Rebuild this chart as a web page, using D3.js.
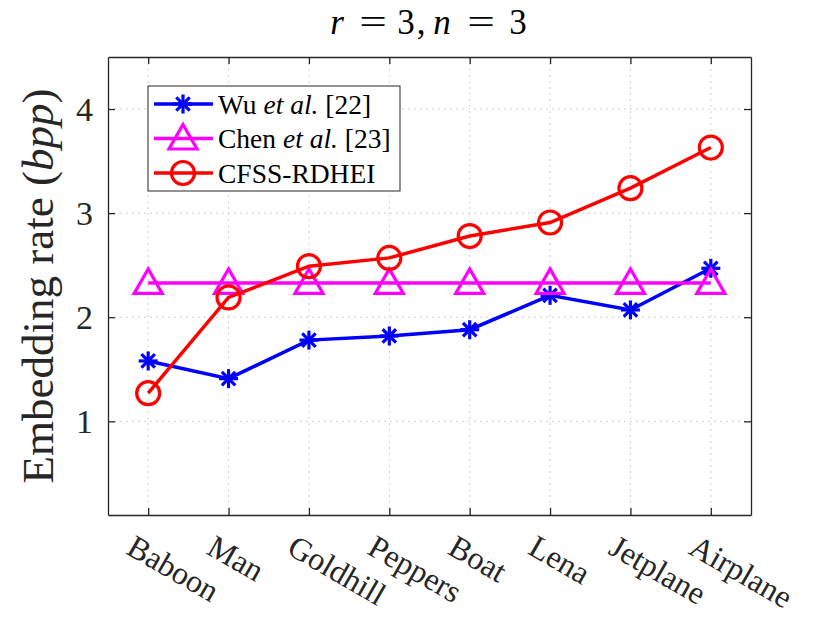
<html>
  <head>
    <meta charset="utf-8" />
    <script src="https://d3js.org/d3.v7.min.js"></script>
  </head>
  <body>
    <div id="chart"></div>
    <script>
      // images sur l'axe x
      const images = ["Baboon", "Man", "Goldhill", "Peppers", "Boat", "Lena", "Jetplane", "Airplane"];
      // taux d'insertion (bpp)
      const wu    = [1.58, 1.41, 1.78, 1.82, 1.88, 2.21, 2.07, 2.47];
      const chen  = [2.33, 2.33, 2.33, 2.33, 2.33, 2.33, 2.33, 2.33];
      const cfss  = [1.27, 2.19, 2.49, 2.57, 2.78, 2.91, 3.24, 3.63];
      const yTicks = [1, 2, 3, 4];

      const W = 830, H = 623;
      const pLeft = 108, pRight = 751, pTop = 57, pBottom = 515;
      const serif = "Liberation Serif";

      d3.select("body").style("margin", "0px");

      const svg = d3.select("#chart").append("svg")
        .attr("width", W).attr("height", H)
        .style("display", "block");

      const x = d3.scaleLinear().domain([0.5, images.length + 0.5]).range([pLeft, pRight]);
      const y = d3.scaleLinear().domain([0.1, 4.5]).range([pBottom, pTop]);

      // grille pointillee
      const grid = svg.append("g").attr("stroke", "#d0d0d0").attr("stroke-width", 1)
        .attr("stroke-dasharray", "2,4");
      images.forEach((d, i) => {
        grid.append("line").attr("x1", x(i + 1)).attr("x2", x(i + 1))
          .attr("y1", pTop).attr("y2", pBottom);
      });
      yTicks.forEach(t => {
        grid.append("line").attr("x1", pLeft).attr("x2", pRight)
          .attr("y1", y(t)).attr("y2", y(t));
      });

      // axes (boite a la matlab)
      const xAxis = d3.axisBottom(x).tickValues(d3.range(1, images.length + 1))
        .tickFormat(d => images[d - 1]).tickSize(-7).tickSizeOuter(0);
      const xTop = d3.axisTop(x).tickValues(d3.range(1, images.length + 1))
        .tickFormat("").tickSize(-7).tickSizeOuter(0);
      const yAxis = d3.axisLeft(y).tickValues(yTicks).tickFormat(d3.format("d"))
        .tickSize(-7).tickSizeOuter(0);
      const yRight = d3.axisRight(y).tickValues(yTicks).tickFormat("").tickSize(-7).tickSizeOuter(0);

      const gx = svg.append("g").attr("transform", `translate(0,${pBottom})`).call(xAxis);
      svg.append("g").attr("transform", `translate(0,${pTop})`).call(xTop);
      const gy = svg.append("g").attr("transform", `translate(${pLeft},0)`).call(yAxis);
      svg.append("g").attr("transform", `translate(${pRight},0)`).call(yRight);

      svg.selectAll(".domain, .tick line").attr("stroke", "#262626").attr("stroke-width", 1.3);

      gx.selectAll(".tick text")
        .attr("font-size", 32)
        .attr("text-anchor", "start")
        .attr("dy", null).attr("y", null)
        .attr("transform", "translate(-24,38) rotate(30)")
        .attr("fill", "#262626");

      gy.selectAll(".tick text")
        .attr("font-size", 34)
        .attr("x", -15).attr("dy", "0.34em")
        .attr("fill", "#262626");

      // titre : r = 3, n = 3 (espacement facon LaTeX)
      const titre = [["r", 337, true], ["=", 373, false], ["3", 406, false], [",", 421, false],
                     ["n", 442, true], ["=", 481, false], ["3", 518, false]];
      titre.forEach(([t, cx, it]) => {
        svg.append("text")
          .attr("transform", `translate(${cx},34) scale(${t === "=" ? 1.4 : 1},1)`)
          .attr("text-anchor", "middle").attr("font-size", 35)
          .attr("font-style", it ? "italic" : "normal").attr("fill", "#000")
          .text(t);
      });

      // libelle y
      svg.append("text")
        .attr("transform", `translate(53,${(pTop + pBottom) / 2}) rotate(-90)`)
        .attr("text-anchor", "middle").attr("font-size", 45).attr("fill", "#262626")
        .html('Embedding rate (<tspan font-style="italic">bpp</tspan>)');

      const line = d3.line().x((d, i) => x(i + 1)).y(d => y(d));

      const series = [
        { name: "wu", values: wu, color: "#0000ff", marker: "star" },
        { name: "chen", values: chen, color: "#ff00ff", marker: "tri" },
        { name: "cfss", values: cfss, color: "#ff0000", marker: "circle" }
      ];

      function drawMarker(g, type, cx, cy, color) {
        if (type === "star") {
          const r = 9.5;
          for (let k = 0; k < 4; k++) {
            const a = k * Math.PI / 4;
            g.append("line")
              .attr("x1", cx - r * Math.cos(a)).attr("y1", cy - r * Math.sin(a))
              .attr("x2", cx + r * Math.cos(a)).attr("y2", cy + r * Math.sin(a))
              .attr("stroke", color).attr("stroke-width", 3.2);
          }
        } else if (type === "tri") {
          const s = 14;
          g.append("path")
            .attr("d", `M${cx},${cy - s} L${cx + s},${cy + s * 0.75} L${cx - s},${cy + s * 0.75} Z`)
            .attr("fill", "none").attr("stroke", color).attr("stroke-width", 3.2);
        } else {
          g.append("circle").attr("cx", cx).attr("cy", cy).attr("r", 11.5)
            .attr("fill", "none").attr("stroke", color).attr("stroke-width", 3.2);
        }
      }

      series.forEach(s => {
        const g = svg.append("g");
        g.append("path").datum(s.values).attr("d", line)
          .attr("fill", "none").attr("stroke", s.color).attr("stroke-width", 3.5);
        s.values.forEach((v, i) => drawMarker(g, s.marker, x(i + 1), y(v), s.color));
      });

      // legende
      const lg = svg.append("g");
      lg.append("rect").attr("x", 148).attr("y", 86).attr("width", 252).attr("height", 105)
        .attr("fill", "#fff").attr("stroke", "#262626").attr("stroke-width", 1);
      const labels = [
        'Wu <tspan font-style="italic">et al.</tspan> [22]',
        'Chen <tspan font-style="italic">et al.</tspan> [23]',
        'CFSS-RDHEI'
      ];
      series.forEach((s, i) => {
        const ly = 104 + i * 34.5;
        lg.append("line").attr("x1", 154).attr("x2", 213).attr("y1", ly).attr("y2", ly)
          .attr("stroke", s.color).attr("stroke-width", 3.5);
        drawMarker(lg, s.marker, 183, ly, s.color);
        lg.append("text").attr("x", 218).attr("y", ly).attr("dy", "0.35em")
          .attr("font-size", 27.5).attr("fill", "#000").html(labels[i]);
      });

      // police serif partout, posee en dernier sur chaque texte
      svg.selectAll("g").attr("font-family", serif);
      svg.selectAll("text, tspan")
        .attr("font-family", serif)
        .style("font-family", serif);
    </script>
  </body>
</html>
